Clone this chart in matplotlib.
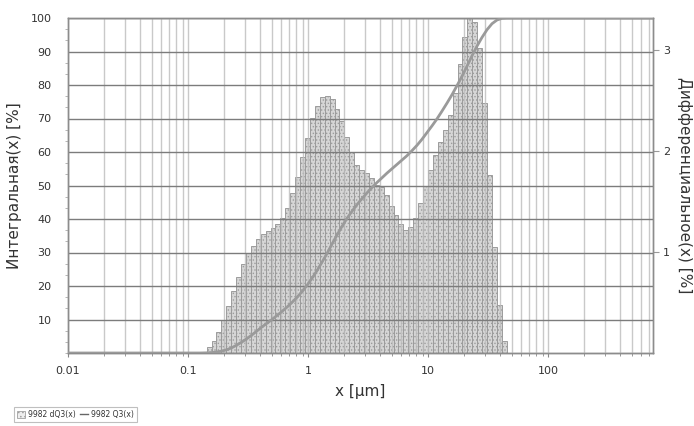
import numpy as np
import matplotlib
matplotlib.use("Agg")
import matplotlib.pyplot as plt
from matplotlib.ticker import LogLocator, FixedLocator, NullFormatter, MultipleLocator
from matplotlib.patches import Patch
from matplotlib.lines import Line2D

# ---------------- data ----------------
# histogram channels: first lower edge (µm) and channel density (per decade)
bin_start_um = 0.130
bins_per_decade = 24.39

# dQ3 per channel, right axis [%]
dq3 = [0.013, 0.063, 0.123, 0.212, 0.323, 0.468, 0.617, 0.750, 0.882, 0.995,
       1.061, 1.124, 1.177, 1.211, 1.234, 1.274, 1.333, 1.433, 1.582, 1.745,
       1.944, 2.126, 2.322, 2.448, 2.537, 2.547, 2.514, 2.415, 2.299, 2.143,
       1.993, 1.861, 1.811, 1.778, 1.728, 1.662, 1.648, 1.566, 1.459, 1.367,
       1.274, 1.217, 1.250, 1.340, 1.489, 1.658, 1.811, 1.960, 2.093, 2.209,
       2.355, 2.570, 2.859, 3.131, 3.340, 3.274, 3.015, 2.474, 1.761, 1.051,
       0.474, 0.123]

# cumulative Q3 curve, left axis [%]
q3_x = [0.01, 0.1259, 0.1440, 0.1585, 0.1744, 0.1919, 0.2113, 0.2326, 0.2560,
        0.2818, 0.3102, 0.3415, 0.3758, 0.4137, 0.4554, 0.5012, 0.5517, 0.6072,
        0.6683, 0.7356, 0.8097, 0.8913, 0.9810, 1.080, 1.189, 1.308, 1.440,
        1.585, 1.745, 1.920, 2.113, 2.326, 2.560, 2.818, 3.102, 3.415, 3.758,
        4.137, 4.554, 5.012, 5.517, 6.072, 6.683, 7.356, 8.097, 8.913, 9.810,
        10.80, 11.89, 13.08, 14.40, 15.85, 17.45, 19.20, 21.13, 23.26, 25.60,
        28.18, 31.02, 34.15, 37.58, 41.37, 45.54, 750.0]
q3_y = [0.0, 0.0, 0.05, 0.15, 0.3, 0.6, 1.0, 1.6, 2.4,
        3.3, 4.3, 5.4, 6.6, 7.8, 8.9, 10.0, 11.2, 12.4,
        13.7, 15.1, 16.6, 18.3, 20.2, 22.3, 24.6, 27.1, 29.7,
        32.5, 35.2, 37.8, 40.2, 42.3, 44.3, 46.1, 47.8, 49.4, 50.9,
        52.3, 53.7, 55.0, 56.3, 57.6, 58.9, 60.4, 62.0, 63.8, 65.8,
        67.8, 69.9, 72.2, 74.6, 77.1, 79.8, 82.6, 85.6, 88.7, 91.6,
        94.2, 96.5, 98.3, 99.4, 99.9, 100.0, 100.0]

x_ticks = [0.01, 0.1, 1, 10, 100]
x_tick_labels = ["0.01", "0.1", "1", "10", "100"]
left_ticks = [10, 20, 30, 40, 50, 60, 70, 80, 90, 100]
right_ticks = [1, 2, 3]

x_label = "x [µm]"
left_label = "Интегральная(x) [%]"
right_label = "Дифференциальное(x) [%]"
legend_labels = ["9982 dQ3(x)", "9982 Q3(x)"]

# ---------------- styling ----------------
plt.rcParams['font.family'] = ['DejaVu Sans']
plt.rcParams['hatch.linewidth'] = 0.6
plt.rcParams['hatch.color'] = '#9c9c9c'

W, H = 694, 426
fig = plt.figure(figsize=(W / 100, H / 100), dpi=100)
left_px, right_px, top_px, bottom_px = 68, 653, 18, 353
ax = fig.add_axes([left_px / W, 1 - bottom_px / H,
                   (right_px - left_px) / W, (bottom_px - top_px) / H])
ax2 = ax.twinx()

bg = '#dcdcdc'
ax2.set_facecolor(bg)
ax.set_zorder(ax2.get_zorder() + 1)
ax.patch.set_visible(False)

# histogram (right axis)
n = len(dq3)
edges = bin_start_um * 10 ** (np.arange(n + 1) / bins_per_decade)
ax2.bar(edges[:-1], dq3, width=np.diff(edges), align='edge',
        facecolor='#d6d6d6', edgecolor='#9c9c9c', linewidth=0.7,
        hatch='.....', zorder=2)

# cumulative curve (left axis)
ax.plot(q3_x, q3_y, color='#9a9a9a', linewidth=2.0, zorder=4,
        solid_joinstyle='round')

ax.set_xscale('log')
ax.set_xlim(0.01, 750)
ax.set_ylim(0, 100)
ax2.set_ylim(0, 100 / 30.15)

# grid lines
ax.xaxis.set_major_locator(FixedLocator(x_ticks))
ax.set_xticklabels(x_tick_labels)
ax.xaxis.set_minor_locator(LogLocator(base=10, subs=np.arange(2, 10), numticks=20))
ax.xaxis.set_minor_formatter(NullFormatter())
ax.grid(True, which='both', axis='x', color='#bcbcbc', linewidth=1.0, alpha=0.8, zorder=1)
ax.yaxis.set_major_locator(FixedLocator(left_ticks))
ax.yaxis.set_minor_locator(MultipleLocator(10 / 3))
ax.grid(True, which='major', axis='y', color='#7c7c7c', linewidth=1.0, zorder=3)

ax2.yaxis.set_major_locator(FixedLocator(right_ticks))

tick_col = '#333333'
ax.tick_params(axis='x', which='major', direction='out', length=3, labelsize=8,
               colors='#888888', labelcolor=tick_col, pad=6)
ax.tick_params(axis='x', which='minor', direction='out', length=2, colors='#888888')
ax.tick_params(axis='y', which='major', direction='out', length=0, labelsize=8,
               labelcolor=tick_col, pad=12)
ax.tick_params(axis='y', which='minor', direction='out', length=2, colors='#aaaaaa')
ax2.tick_params(axis='y', which='major', direction='out', length=4, labelsize=8,
                colors='#999999', labelcolor=tick_col, pad=3)

for a in (ax, ax2):
    for s in a.spines.values():
        s.set_color('#8c8c8c')
        s.set_linewidth(1.0)
ax2.spines['bottom'].set_color('#6e6e6e')

ax.set_xlabel(x_label, fontsize=11, color=tick_col, labelpad=6)
ax.set_ylabel(left_label, fontsize=11, color=tick_col, labelpad=6)
ax2.set_ylabel(right_label, fontsize=11, color=tick_col, rotation=270, labelpad=16)

# legend
handles = [Patch(facecolor='#eeeeee', edgecolor='#a0a0a0', hatch='....', linewidth=0.6),
           Line2D([], [], color='#666666', linewidth=1.0)]
leg = fig.legend(handles, legend_labels, loc='lower left',
                 bbox_to_anchor=(14 / W, 4 / H), ncol=2, fontsize=5.5,
                 frameon=True, fancybox=False, handlelength=1.1, handleheight=1.0,
                 handletextpad=0.3, columnspacing=0.6, borderpad=0.4,
                 borderaxespad=0.0, labelcolor='#333333')
leg.get_frame().set_edgecolor('#b0b0b0')
leg.get_frame().set_linewidth(0.8)

fig.savefig('out.png', dpi=100)
